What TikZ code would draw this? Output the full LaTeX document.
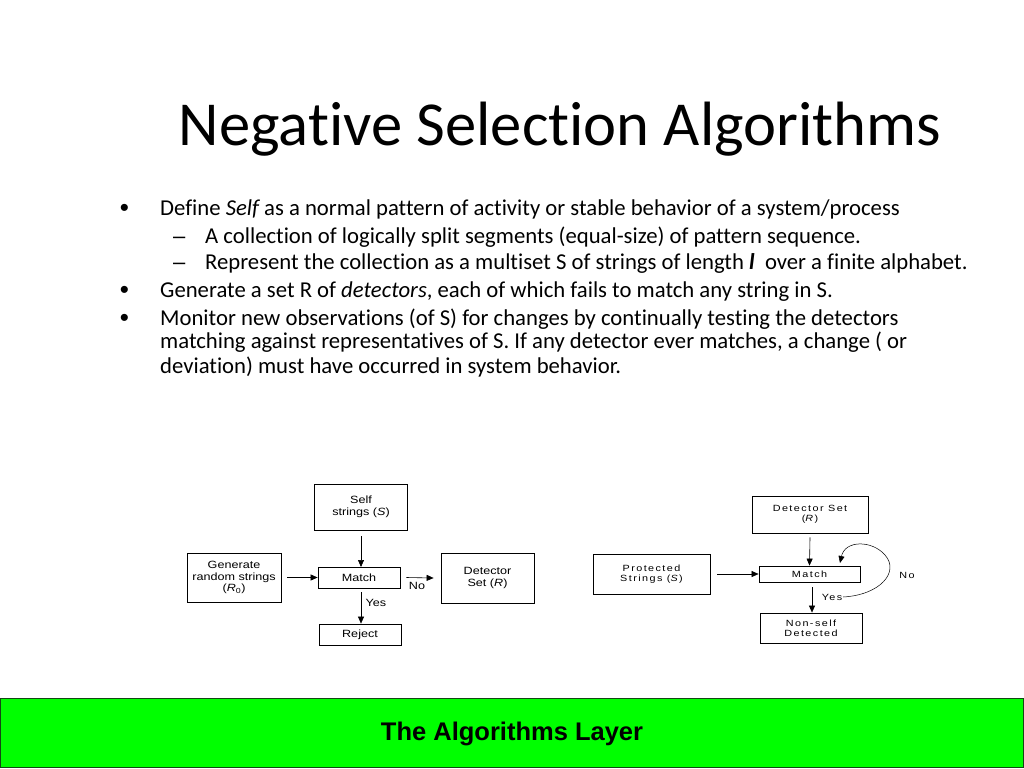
\documentclass[tikz,border=0pt]{standalone}
\usepackage{fontspec}
\setmainfont{Carlito}[Ligatures=CommonOff]
\newfontfamily\arial{Liberation Sans}
\newfontfamily\diagA{Liberation Sans}[FakeStretch=1.2]
\newfontfamily\diagB{Liberation Sans}[FakeStretch=1.2,LetterSpace=16]
\usetikzlibrary{arrows.meta}
\begin{document}
\begin{tikzpicture}[x=1pt,y=-1pt,
  box/.style={draw, line width=0.8pt, align=center, inner sep=0pt, font=\diagA\fontsize{10.5}{11.5}\selectfont},
  boxb/.style={draw, line width=0.8pt, align=center, inner sep=0pt, font=\diagB\fontsize{9}{10}\selectfont},
  lbl/.style={font=\diagA\fontsize{10.5}{11.5}\selectfont, inner sep=0pt},
  lblb/.style={font=\diagB\fontsize{9}{10}\selectfont, inner sep=0pt},
  arr/.style={-{Triangle[length=7pt,width=6pt]}, line width=0.6pt},
  body/.style={anchor=base west, inner sep=0pt, font=\fontsize{22.7}{27}\selectfont},
  bul/.style={anchor=center, inner sep=0pt, font=\arial\fontsize{26}{27}\selectfont},
  dsh/.style={anchor=base west, inner sep=0pt, font=\arial\fontsize{22}{27}\selectfont}]
\useasboundingbox (0,0) rectangle (1024,768);
\fill[white] (0,0) rectangle (1024,768);
% title
\node[inner sep=0pt, anchor=base, font=\fontsize{62.6}{70}\selectfont] (title) at (560,145) {Negative Selection Algorithms};
% bullets
\node[bul] (b1) at (124.5,210) {•};
\node[body] (t1) at (160,215) {Define {\itshape Self} as a normal pattern of activity or stable behavior of a system/process};
\node[dsh] (d1) at (173,243) {–};
\node[body] (t2) at (205,243) {A collection of logically split segments (equal-size) of pattern sequence.};
\node[dsh] (d2) at (173,269) {–};
\node[body] (t3) at (205,269) {Represent the collection as a multiset S of strings of length \textbf{\textit{l}}\ \ over a finite alphabet.};
\node[bul] (b2) at (124.5,292) {•};
\node[body] (t4) at (160,297) {Generate a set R of \textit{detectors}, each of which fails to match any string in S.};
\node[bul] (b3) at (124.5,320) {•};
\node[body] (t5) at (160,325) {Monitor new observations (of S) for changes by continually testing the detectors};
\node[body] (t6) at (160,348) {matching against representatives of S. If any detector ever matches, a change ( or};
\node[body] (t7) at (160,373) {deviation) must have occurred in system behavior.};
% left diagram
\node[box, minimum width=93pt, minimum height=46pt] (self) at (361,507) {Self\\strings (\textit{S})};
\node[box, minimum width=94pt, minimum height=49pt] (gen) at (234,577.5) {Generate\\random strings\\(\textit{R}\textsubscript{0})};
\node[box, minimum width=82pt, minimum height=21pt] (match1) at (359,577.5) {Match};
\node[box, minimum width=93pt, minimum height=50pt] (det1) at (487.5,578) {Detector\\Set (\textit{R})};
\node[box, minimum width=82pt, minimum height=21pt] (rej) at (360,634.5) {Reject};
\draw[arr] (361,536) -- (361,567);
\draw[arr] (gen.east) ++(6,0) -- (match1.west);
\draw[arr] (match1.east) ++(6,0) -- ([xshift=-7pt]det1.west);
\draw[arr] (361,592) -- (rej.north -| 361,0);
\node[lbl] (no1) at (417,586) {No};
\node[lbl] (yes1) at (376,603) {Yes};
% right diagram
\node[boxb, minimum width=116pt, minimum height=37pt] (det2) at (810,514.5) {Detector Set\\(\textit{R})};
\node[boxb, minimum width=117pt, minimum height=40pt] (prot) at (651.5,574) {Protected\\Strings (\textit{S})};
\node[boxb, minimum width=101pt, minimum height=16pt] (match2) at (809.5,574) {Match};
\node[boxb, minimum width=102pt, minimum height=30pt] (ns) at (811,628) {Non-self\\Detected};
\draw[arr] (det2.south) ++(0,4) -- (match2.north);
\draw[arr] (prot.east) ++(7,0) -- (match2.west);
\draw[arr] (812,587) -- (ns.north -| 812,0);
\coordinate (ls) at (843,597);
\coordinate (le) at (840,563);
\draw[-{Triangle[length=7pt,width=6pt]}, line width=0.5pt] (ls) .. controls (880,595) and (900,572) .. (885,555) .. controls (872,540) and (845,540) .. (le);
\node[lblb] (no2) at (907,575) {No};
\node[lblb] (yes2) at (832,597) {Yes};
% banner
\draw[fill={rgb,255:red,0;green,255;blue,0}, draw={rgb,255:red,20;green,70;blue,20}, line width=1pt] (0.5,698) rectangle (1023.5,767.5);
\node[inner sep=0pt, font=\arial\bfseries\fontsize{25.5}{28}\selectfont] (banner) at (512,734) {The Algorithms Layer};
\end{tikzpicture}
\end{document}
